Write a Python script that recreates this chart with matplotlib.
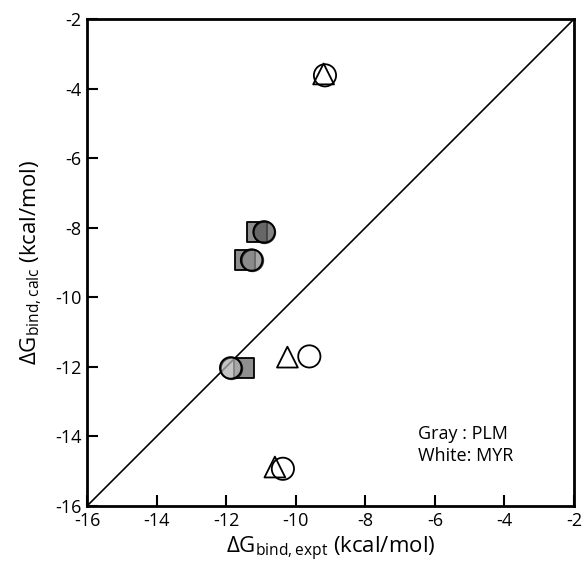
import matplotlib
matplotlib.use("Agg")
import matplotlib.pyplot as plt

plt.rcParams["font.family"] = ["Open Sans", "DejaVu Sans"]
plt.rcParams["mathtext.fontset"] = "custom"
plt.rcParams["mathtext.rm"] = "Open Sans"
plt.rcParams["mathtext.it"] = "Open Sans"
plt.rcParams["axes.unicode_minus"] = False

# PLM (gray) pairs: squares and circles
plm_sq_x = [-11.11, -11.47, -11.50]
plm_sq_y = [-8.12, -8.93, -12.03]
plm_ci_x = [-10.91, -11.27, -11.87]
plm_ci_y = [-8.12, -8.93, -12.03]
plm_ci_colors = ["#5a5a5a", "#8a8a8a", "#b0b0b0"]

# MYR (white) pairs: triangles and circles
myr_tri_x = [-9.20, -10.24, -10.60]
myr_tri_y = [-3.58, -11.72, -14.88]
myr_ci_x = [-9.16, -9.61, -10.37]
myr_ci_y = [-3.62, -11.70, -14.93]

ticks = [-16, -14, -12, -10, -8, -6, -4, -2]

fig = plt.figure(figsize=(5.84, 5.72), dpi=100)
ax = fig.add_axes([0.149, 0.1154, 0.834, 0.8514])

ax.plot([-16, -2], [-16, -2], color="black", lw=1.2, zorder=1)

ax.scatter(plm_sq_x, plm_sq_y, marker="s", s=15**2, facecolor=(0.45, 0.45, 0.45, 0.8),
           edgecolor="black", linewidth=1.3, zorder=3)
for x, y, c in zip(plm_ci_x, plm_ci_y, plm_ci_colors):
    ax.scatter([x], [y], marker="o", s=15.5**2, facecolor=c, alpha=0.75,
               edgecolor="black", linewidth=1.3, zorder=4)
    ax.scatter([x], [y], marker="o", s=15.5**2, facecolor="none",
               edgecolor="black", linewidth=1.3, zorder=5)

ax.scatter(myr_tri_x, myr_tri_y, marker="^", s=15**2, facecolor="none",
           edgecolor="black", linewidth=1.3, zorder=3)
ax.scatter(myr_ci_x, myr_ci_y, marker="o", s=16**2, facecolor="none",
           edgecolor="black", linewidth=1.3, zorder=4)

ax.set_xlim(-16, -2)
ax.set_ylim(-16, -2)
ax.set_xticks(ticks)
ax.set_yticks(ticks)
ax.tick_params(direction="in", length=8, width=1.5, labelsize=13, pad=4)
for sp in ax.spines.values():
    sp.set_linewidth(2)

ax.set_xlabel(r"$\Delta$G$_{\mathrm{bind,expt}}$ (kcal/mol)", fontsize=16, labelpad=4)
ax.set_ylabel(r"$\Delta$G$_{\mathrm{bind,calc}}$ (kcal/mol)", fontsize=16, labelpad=8)

ax.text(-6.5, -14.25, "Gray : PLM\nWhite: MYR", fontsize=13, va="center", ha="left",
        linespacing=1.25)

fig.savefig("out.png", dpi=100)
